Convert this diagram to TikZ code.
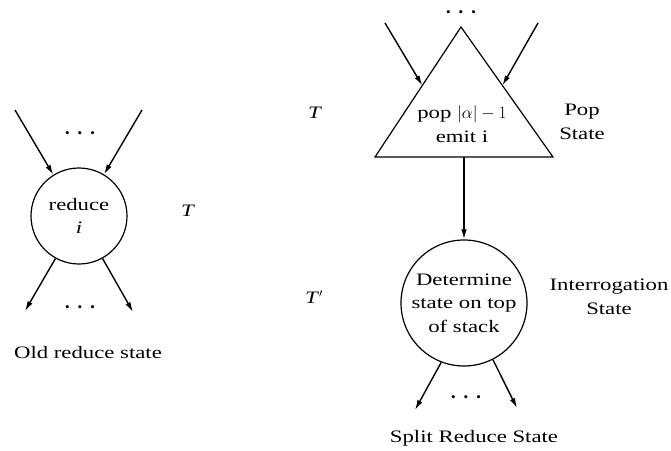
\documentclass[tikz,border=0pt]{standalone}
\usepackage{fontspec}
\setmainfont[FakeStretch=1.3]{Liberation Serif}
\newfontfamily\dotfont{Liberation Serif}
\usetikzlibrary{arrows.meta,calc}
\begin{document}
\begin{tikzpicture}[x=1pt,y=-1pt,
  every node/.style={font=\fontsize{17.5}{23.5}\selectfont, inner sep=0pt},
  state/.style={circle, draw, line width=1.2pt, align=center},
  conn/.style={line width=1.4pt, -{Latex[length=10pt,width=5.5pt]}},
  lbl/.style={align=center},
  dots/.style={font=\dotfont\fontsize{13}{13}\selectfont}]
\useasboundingbox (0,0) rectangle (671,450);

% ---- old reduce state ----
\node[state, minimum size=96pt] (c1) at (79,216) {reduce\\\textit{i}};
\coordinate (a1) at (15,110);
\coordinate (a2) at (142,110);
\coordinate (b1) at (25,311);
\coordinate (b2) at (133,312);
\draw[conn] (a1) -- (c1.122);
\draw[conn] (a2) -- (c1.59);
\draw[conn] (c1.-119) -- (b1);
\draw[conn] (c1.-61) -- (b2);
\node[dots] (d1) at (80,135) {\textbullet\hspace{8pt}\textbullet\hspace{8pt}\textbullet};
\node[dots] (d2) at (80,309) {\textbullet\hspace{8pt}\textbullet\hspace{8pt}\textbullet};
\node (t1) at (188,211) {\textit{T}};
\node (oldlbl) at (88,353) {Old reduce state};

% ---- split reduce state ----
\coordinate (apex) at (461,27);
\coordinate (bl) at (375,157);
\coordinate (br) at (553,157);
\draw[line width=1.2pt, line join=miter] (apex) -- (bl) -- (br) -- cycle;
\coordinate (tin1) at ($(apex)!0.45!(bl)$);
\coordinate (tin2) at ($(apex)!0.45!(br)$);
\coordinate (tbase) at ($(bl)!0.5!(br)$);
\coordinate (e1) at (385,23);
\coordinate (e2) at (538,23);
\draw[conn] (e1) -- (tin1);
\draw[conn] (e2) -- (tin2);
\node[dots] (d3) at (461,14) {\textbullet\hspace{8pt}\textbullet\hspace{8pt}\textbullet};
\node[lbl] (pop) at (462,124) {pop $|\alpha|-1$\\emit i};
\node (t2) at (315,113) {\textit{T}};
\node[lbl] (poplbl) at (582,122) {Pop\\State};

\node[state, minimum size=126pt] (c2) at (464,303) {Determine\\state on top\\of stack};
\draw[conn] (tbase) -- (c2.north);
\coordinate (f1) at (415,410);
\coordinate (f2) at (517,408);
\draw[conn] (c2.-111) -- (f1);
\draw[conn] (c2.-63) -- (f2);
\node[dots] (d4) at (466,399) {\textbullet\hspace{8pt}\textbullet\hspace{8pt}\textbullet};
\node (t3) at (314,297) {\textit{T}$'$};
\node[lbl] (intlbl) at (609,297) {Interrogation\\State};
\node (splitlbl) at (474,438) {Split Reduce State};
\end{tikzpicture}
\end{document}
